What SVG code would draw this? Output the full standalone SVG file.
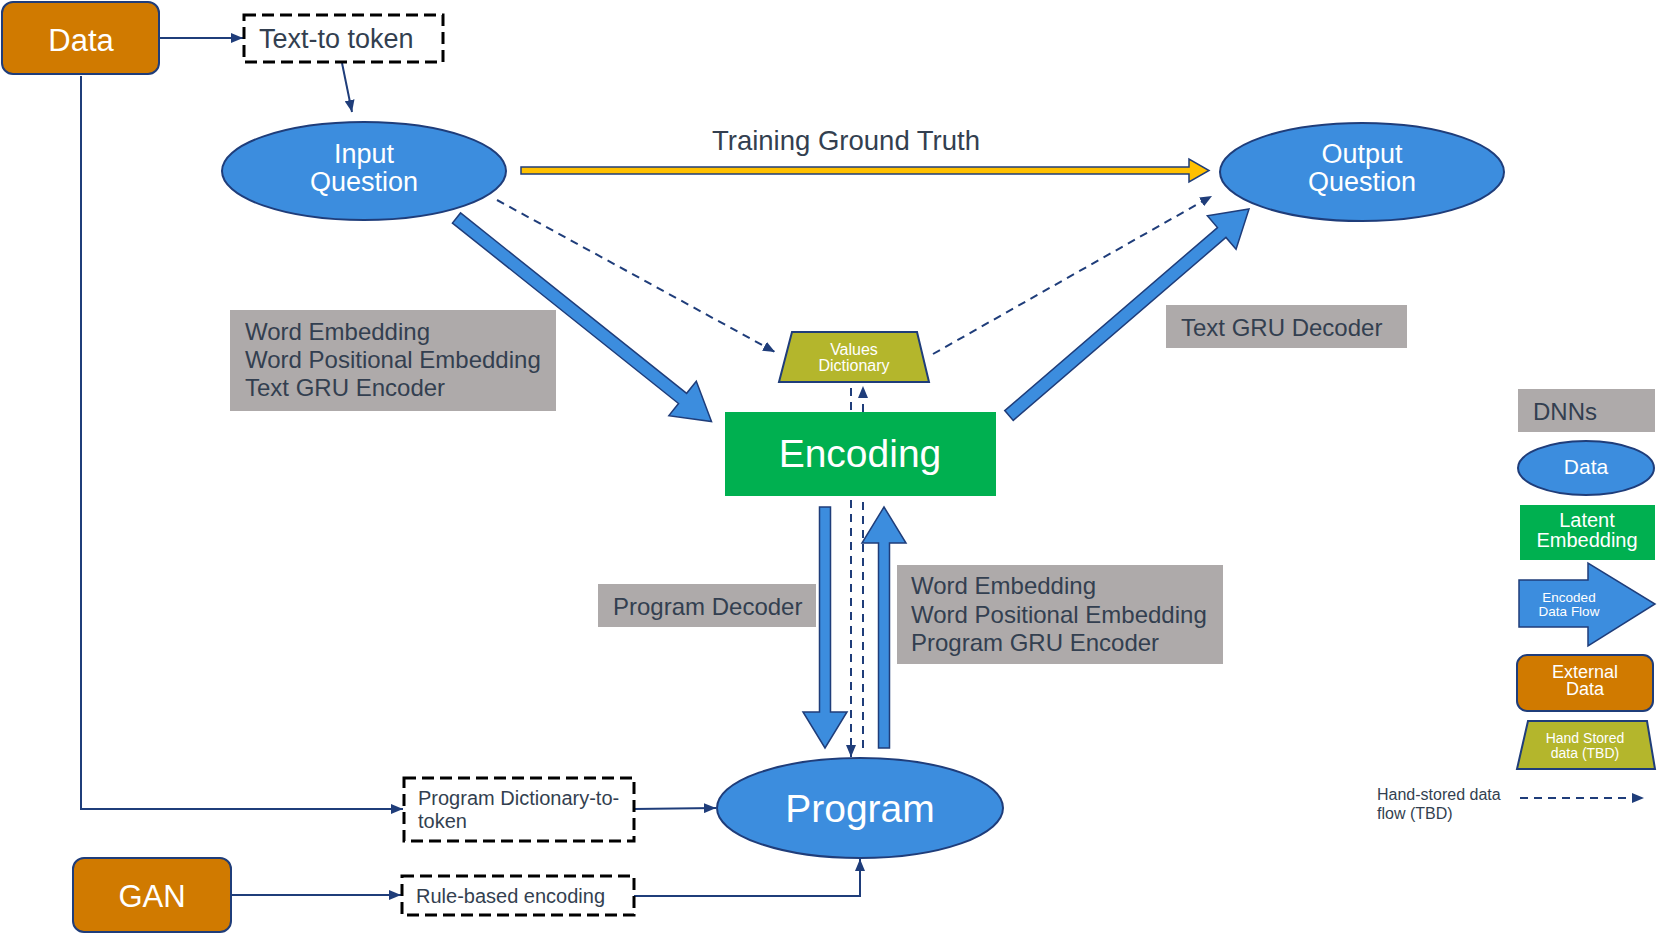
<svg xmlns="http://www.w3.org/2000/svg" width="1658" height="936" viewBox="0 0 1658 936">
<defs>
<style>
text{font-family:"Liberation Sans",Arial,sans-serif}
.w{fill:#fff}
.d{fill:#333F50}
.c{text-anchor:middle}
.ell{fill:#3C8DDE;stroke:#1F3D7A;stroke-width:2}
.ext{fill:#D07A00;stroke:#1F3D7A;stroke-width:2}
.dnn{fill:#AEAAAA}
.lat{fill:#00B050}
.hs{fill:#B4B62C;stroke:#1F3D7A;stroke-width:2}
.dash{fill:#fff;stroke:#000;stroke-width:3;stroke-dasharray:12 6}
.flow{fill:#3C8DDE;stroke:#1F3D7A;stroke-width:1.5}
.ln{fill:none;stroke:#1F3D7A;stroke-width:2}
.dl{fill:none;stroke:#1F3D7A;stroke-width:2;stroke-dasharray:8 6}
</style>
<marker id="ah" markerUnits="userSpaceOnUse" markerWidth="12" markerHeight="10" refX="12" refY="5" orient="auto" viewBox="0 0 12 10"><path d="M0,0L12,5L0,10z" fill="#1F3D7A"/></marker>
</defs>
<rect width="1658" height="936" fill="#fff"/>

<g id="connectors">
  <path class="ln" d="M159,38H243" marker-end="url(#ah)"/>
  <path class="ln" d="M342,63L352,112" marker-end="url(#ah)"/>
  <path class="ln" d="M81,76V809H403" marker-end="url(#ah)"/>
  <path class="ln" d="M634,809L716,808" marker-end="url(#ah)"/>
  <path class="ln" d="M231,895H401" marker-end="url(#ah)"/>
  <path class="ln" d="M634,896H860V859" marker-end="url(#ah)"/>
  <path class="dl" d="M497,200L775,352" marker-end="url(#ah)"/>
  <path class="dl" d="M933,354L1212,196" marker-end="url(#ah)"/>
  <path class="dl" d="M851,388V757" marker-end="url(#ah)"/>
  <path class="dl" d="M863,748V386" marker-end="url(#ah)"/>
  <polygon fill="#FFC000" stroke="#1F3D7A" stroke-width="1.5" points="521,167 1189,167 1189,159 1209,170.5 1189,182 1189,174 521,174"/>
  <polygon class="flow" points="452.45,223.08 678.53,403.5 668.86,415.62 711.5,421.5 696.3,381.22 686.63,393.34 460.55,212.92"/>
  <polygon class="flow" points="1013.24,420.43 1225.95,237.41 1236.06,249.16 1249,209 1207.36,215.8 1217.47,227.55 1004.76,410.57"/>
  <polygon class="flow" points="819.5,507 830.5,507 830.5,712 847,712 825,748 803,712 819.5,712"/>
  <polygon class="flow" points="878.5,748 889.5,748 889.5,543 906,543 884,507 862,543 878.5,543"/>
  <text class="d c" x="846" y="150" font-size="27.5">Training Ground Truth</text>
</g>

<g id="data">
  <rect class="ext" x="2" y="2" width="157" height="72" rx="11"/>
  <text class="w c" x="81" y="51" font-size="31">Data</text>
</g>
<g id="text-to-token">
  <rect class="dash" x="244" y="15" width="199" height="47"/>
  <text class="d" x="259" y="48" font-size="27">Text-to token</text>
</g>
<g id="input-question">
  <ellipse class="ell" cx="364" cy="171" rx="142" ry="49"/>
  <text class="w c" x="364" y="163" font-size="27">Input</text>
  <text class="w c" x="364" y="191" font-size="27">Question</text>
</g>
<g id="output-question">
  <ellipse class="ell" cx="1362" cy="172" rx="142" ry="49"/>
  <text class="w c" x="1362" y="163" font-size="27">Output</text>
  <text class="w c" x="1362" y="191" font-size="27">Question</text>
</g>
<g id="text-encoder-label">
  <rect class="dnn" x="230" y="310" width="326" height="101"/>
  <text class="d" x="245" y="340" font-size="24">Word Embedding</text>
  <text class="d" x="245" y="368" font-size="24">Word Positional Embedding</text>
  <text class="d" x="245" y="396" font-size="24">Text GRU Encoder</text>
</g>
<g id="text-decoder-label">
  <rect class="dnn" x="1166" y="305" width="241" height="43"/>
  <text class="d" x="1181" y="336" font-size="24">Text GRU Decoder</text>
</g>
<g id="values-dictionary">
  <polygon class="hs" points="792,332 917,332 929,382 779,382"/>
  <text class="w c" x="854" y="355" font-size="16">Values</text>
  <text class="w c" x="854" y="371" font-size="16">Dictionary</text>
</g>
<g id="encoding">
  <rect class="lat" x="725" y="412" width="271" height="84"/>
  <text class="w c" x="860" y="467" font-size="39">Encoding</text>
</g>
<g id="program-decoder-label">
  <rect class="dnn" x="598" y="584" width="218" height="43"/>
  <text class="d" x="613" y="615" font-size="24">Program Decoder</text>
</g>
<g id="program-encoder-label">
  <rect class="dnn" x="897" y="565" width="326" height="99"/>
  <text class="d" x="911" y="594" font-size="24">Word Embedding</text>
  <text class="d" x="911" y="623" font-size="24">Word Positional Embedding</text>
  <text class="d" x="911" y="651" font-size="24">Program GRU Encoder</text>
</g>
<g id="program">
  <ellipse class="ell" cx="860" cy="808" rx="143" ry="50"/>
  <text class="w c" x="860" y="822" font-size="39">Program</text>
</g>
<g id="program-dictionary-to-token">
  <rect class="dash" x="404" y="778" width="230" height="63"/>
  <text class="d" x="418" y="805" font-size="20">Program Dictionary-to-</text>
  <text class="d" x="418" y="828" font-size="20">token</text>
</g>
<g id="gan">
  <rect class="ext" x="73" y="858" width="158" height="74" rx="11"/>
  <text class="w c" x="152" y="907" font-size="31">GAN</text>
</g>
<g id="rule-based-encoding">
  <rect class="dash" x="402" y="876" width="232" height="39"/>
  <text class="d" x="416" y="903" font-size="20">Rule-based encoding</text>
</g>

<g id="legend">
  <rect class="dnn" x="1518" y="389" width="137" height="43"/>
  <text class="d" x="1533" y="420" font-size="24">DNNs</text>
  <ellipse class="ell" cx="1586" cy="468" rx="68" ry="27"/>
  <text class="w c" x="1586" y="474" font-size="21">Data</text>
  <rect class="lat" x="1520" y="505" width="135" height="55"/>
  <text class="w c" x="1587" y="527" font-size="20">Latent</text>
  <text class="w c" x="1587" y="547" font-size="20">Embedding</text>
  <polygon class="flow" points="1519,580 1588,580 1588,563 1655,604 1588,646 1588,627 1519,627"/>
  <text class="w c" x="1569" y="602" font-size="13.5">Encoded</text>
  <text class="w c" x="1569" y="616" font-size="13.5">Data Flow</text>
  <rect class="ext" x="1517" y="655" width="136" height="56" rx="10"/>
  <text class="w c" x="1585" y="678" font-size="18">External</text>
  <text class="w c" x="1585" y="695" font-size="18">Data</text>
  <polygon class="hs" points="1528,721 1647,721 1655,769 1517,769"/>
  <text class="w c" x="1585" y="743" font-size="14">Hand Stored</text>
  <text class="w c" x="1585" y="758" font-size="14">data (TBD)</text>
  <text class="d" x="1377" y="800" font-size="16">Hand-stored data</text>
  <text class="d" x="1377" y="819" font-size="16">flow (TBD)</text>
  <path class="dl" d="M1520,798H1644" marker-end="url(#ah)"/>
</g>
</svg>
